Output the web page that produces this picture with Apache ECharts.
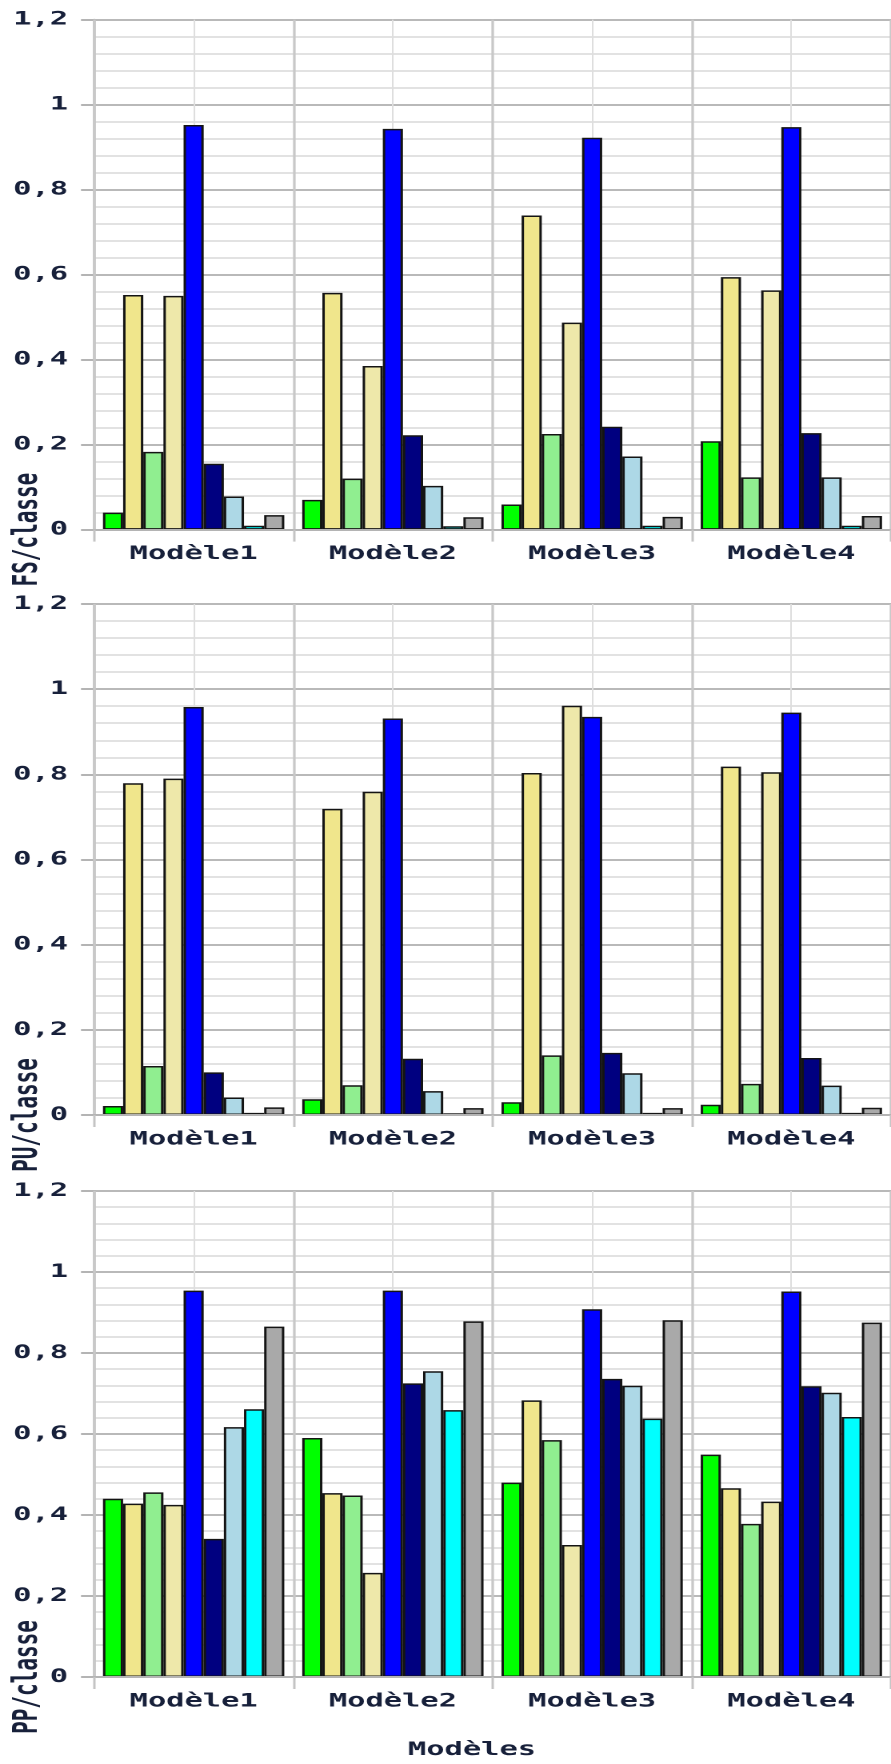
<!DOCTYPE html>
<html>
<head>
<meta charset="utf-8">
<script src="https://cdn.jsdelivr.net/npm/echarts@6/dist/echarts.min.js"></script>
<style>
html,body{margin:0;padding:0;background:#fff;overflow:hidden;}
#wrap{width:891px;height:1764px;overflow:hidden;position:relative;}
#c{width:557px;height:1764px;transform-origin:0 0;transform:scaleX(1.5996);}
</style>
</head>
<body>
<div id="wrap"><div id="c"></div></div>
<script>
// ---------- data ----------
const categories = ['Modèle1', 'Modèle2', 'Modèle3', 'Modèle4'];
const classNames = ['Classe 1', 'Classe 2', 'Classe 3', 'Classe 4', 'Classe 5', 'Classe 6', 'Classe 7', 'Classe 8', 'Classe 9'];
const classColors = ['#00ff00', '#f0e68c', '#90ee90', '#eee8aa', '#0000ff', '#000080', '#add8e6', '#00ffff', '#a9a9a9'];
const yTickLabels = ['0', '0,2', '0,4', '0,6', '0,8', '1', '1,2'];
const panelNames = ['FS/classe', 'PU/classe', 'PP/classe'];
const xTitle = 'Modèles';

// one row per class, one value per model
const fsValues = [
  [0.040, 0.070, 0.059, 0.208],
  [0.552, 0.557, 0.739, 0.594],
  [0.183, 0.120, 0.225, 0.123],
  [0.550, 0.385, 0.487, 0.563],
  [0.952, 0.943, 0.922, 0.947],
  [0.155, 0.222, 0.242, 0.227],
  [0.078, 0.103, 0.172, 0.123],
  [0.009, 0.008, 0.009, 0.009],
  [0.034, 0.029, 0.030, 0.032]
];
const puValues = [
  [0.021, 0.037, 0.030, 0.024],
  [0.779, 0.719, 0.803, 0.818],
  [0.115, 0.070, 0.140, 0.073],
  [0.790, 0.759, 0.961, 0.805],
  [0.958, 0.931, 0.935, 0.945],
  [0.100, 0.132, 0.146, 0.134],
  [0.041, 0.056, 0.098, 0.069],
  [0.005, 0.004, 0.005, 0.005],
  [0.018, 0.016, 0.016, 0.017]
];
const ppValues = [
  [0.440, 0.590, 0.480, 0.549],
  [0.428, 0.454, 0.683, 0.466],
  [0.456, 0.448, 0.585, 0.378],
  [0.425, 0.257, 0.326, 0.433],
  [0.954, 0.954, 0.908, 0.952],
  [0.341, 0.725, 0.736, 0.718],
  [0.617, 0.755, 0.719, 0.702],
  [0.661, 0.659, 0.638, 0.642],
  [0.865, 0.878, 0.881, 0.875]
];
const panels = [fsValues, puValues, ppValues];

// ---------- layout (un-stretched coordinates; container is stretched by SX) ----------
const SX = 1.5996;
const FONT = '"DejaVu Sans Mono", "Liberation Mono", monospace';
const TXT = '#17203a';
const gridLeft = 94 / SX;
const gridWidth = 804 / SX;
const gridTops = [19.6, 604, 1191];
const gridHeights = [510, 511, 486];

const grids = [], xAxes = [], yAxes = [], series = [], graphics = [];
panels.forEach((vals, p) => {
  grids.push({ left: gridLeft, width: gridWidth, top: gridTops[p], height: gridHeights[p], containLabel: false });
  // category axis
  xAxes.push({
    type: 'category', gridIndex: p, data: categories, boundaryGap: true,
    axisLine: { show: true, lineStyle: { color: '#b4b4b4', width: 2 } },
    axisTick: { show: true, interval: 0, length: 12, lineStyle: { color: '#c4c4c4', width: 2.4 / SX } },
    axisLabel: { interval: 0, margin: 15, color: TXT, fontFamily: FONT, fontSize: 19, fontWeight: 'bold' },
    splitLine: { show: true, interval: 0, lineStyle: { color: '#c8c8c8', width: 2.6 / SX } },
    z: 3
  });
  // helper axis for the light centre lines of every category
  xAxes.push({
    type: 'value', gridIndex: p, min: 0, max: 4, interval: 0.5, position: 'top',
    axisLine: { show: false }, axisTick: { show: false }, axisLabel: { show: false },
    splitLine: { show: true, lineStyle: { color: ['rgba(0,0,0,0)', '#dedede'], width: 1.6 / SX } },
    z: 1
  });
  yAxes.push({
    type: 'value', gridIndex: p, min: 0, max: 1.2, interval: 0.2,
    axisLine: { show: true, lineStyle: { color: '#b8b8b8', width: 2.6 / SX } },
    axisTick: { show: true, length: 13 / SX, lineStyle: { color: '#b4b4b4', width: 2 } },
    axisLabel: {
      margin: 26 / SX, color: TXT, fontFamily: FONT, fontSize: 19, fontWeight: 'bold',
      formatter: (v) => yTickLabels[Math.round(v / 0.2)]
    },
    splitLine: { show: true, lineStyle: { color: '#b9b9b9', width: 2 } },
    minorTick: { show: false, splitNumber: 5 },
    minorSplitLine: { show: true, lineStyle: { color: '#d9d9d9', width: 1.5 } }
  });
  vals.forEach((row, k) => {
    series.push({
      type: 'bar', name: classNames[k], xAxisIndex: p * 2, yAxisIndex: p,
      data: row, barGap: '0%', barCategoryGap: '9%',
      itemStyle: { color: classColors[k], borderColor: '#141414', borderWidth: 1.5 },
      emphasis: { disabled: true }, animation: false
    });
  });
  const zeroY = gridTops[p] + gridHeights[p];
  graphics.push({
    type: 'text', x: 28 / SX, y: zeroY, rotation: Math.PI / 2,
    style: { text: panelNames[p], fill: TXT, font: 'bold 21px ' + FONT, textAlign: 'center', textVerticalAlign: 'middle', verticalAlign: 'middle' }
  });
});
graphics.push({
  type: 'text', x: 472 / SX, y: 1750,
  style: { text: xTitle, fill: TXT, font: 'bold 19px ' + FONT, textAlign: 'center', textVerticalAlign: 'middle', verticalAlign: 'middle' }
});

const chart = echarts.init(document.getElementById('c'), null, { renderer: 'canvas', devicePixelRatio: 2 });
chart.setOption({
  animation: false,
  backgroundColor: '#ffffff',
  grid: grids, xAxis: xAxes, yAxis: yAxes, series: series, graphic: graphics
});
</script>
</body>
</html>
